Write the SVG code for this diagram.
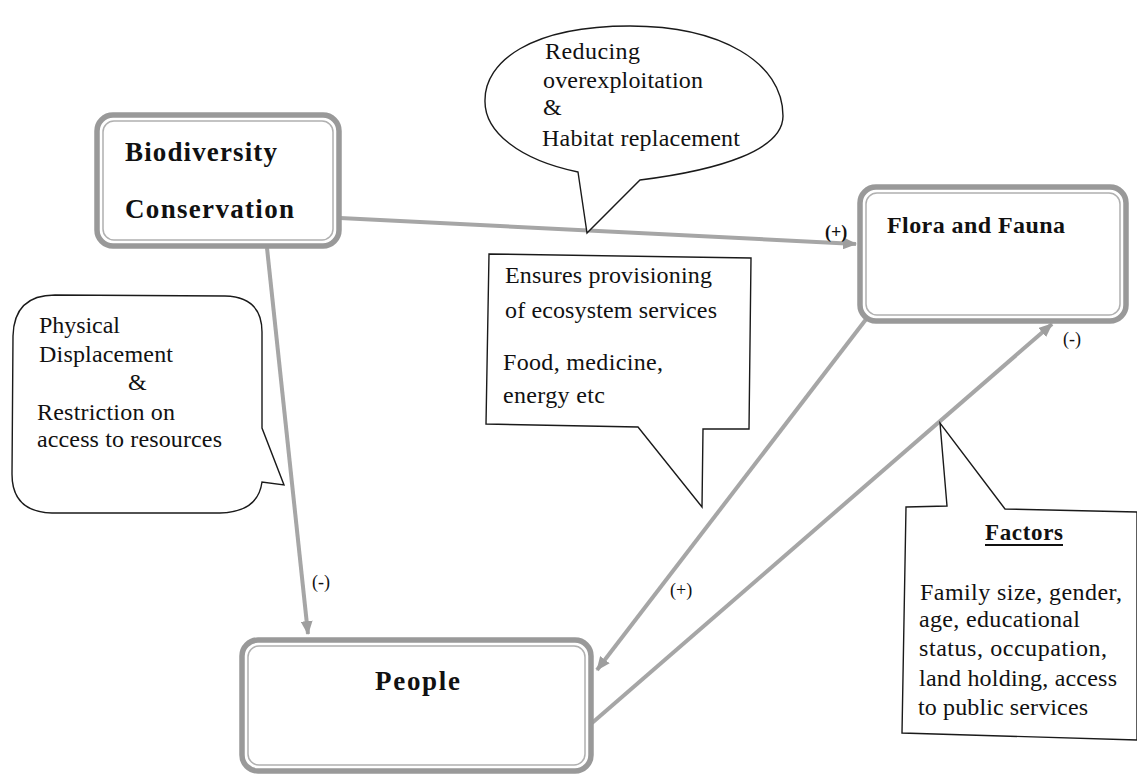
<svg xmlns="http://www.w3.org/2000/svg" width="1137" height="777" viewBox="0 0 1137 777">
<style>
.bg{fill:#ffffff}
.outer{fill:#ffffff;stroke:#999999;stroke-width:5.5}
.inner{fill:none;stroke:#b0b0b0;stroke-width:1.5}
.conn{fill:none;stroke:#a6a6a6;stroke-width:4}
.call{fill:#ffffff;stroke:#1a1a1a;stroke-width:1.4;stroke-linejoin:miter}
.title{font-family:"Liberation Serif","Times New Roman",serif;font-weight:bold;fill:#111}
.body{font-family:"Liberation Serif","Times New Roman",serif;font-size:24px;fill:#111}
.sign{font-family:"Liberation Serif","Times New Roman",serif;font-size:18px;fill:#111}
</style>
<defs>
<marker id="arr" markerUnits="userSpaceOnUse" markerWidth="14" markerHeight="12" refX="13" refY="6" orient="auto">
<path d="M0,0 L14,6 L0,12 Z" fill="#9e9e9e"/>
</marker>
</defs>
<rect class="bg" x="0" y="0" width="1137" height="777"/>

<g id="connectors">
<line class="conn" x1="340" y1="218" x2="856" y2="244" marker-end="url(#arr)"/>
<line class="conn" x1="267" y1="248" x2="308" y2="634" marker-end="url(#arr)"/>
<line class="conn" x1="867" y1="318" x2="597" y2="670" marker-end="url(#arr)"/>
<line class="conn" x1="592" y1="723" x2="1052" y2="324" marker-end="url(#arr)"/>
<text class="sign" x="825" y="238" font-weight="bold">(+)</text>
<text class="sign" x="312" y="588">(-)</text>
<text class="sign" x="670" y="596">(+)</text>
<text class="sign" x="1063" y="345">(-)</text>
</g>

<g id="biodiversity">
<rect class="outer" x="97" y="115" width="242" height="131" rx="16"/>
<rect class="inner" x="103" y="121" width="230" height="119" rx="11"/>
<text class="title" x="125" y="161" font-size="27" textLength="152">Biodiversity</text>
<text class="title" x="125" y="218" font-size="27" textLength="169">Conservation</text>
</g>

<g id="flora">
<rect class="outer" x="860" y="187" width="266" height="134" rx="16"/>
<rect class="inner" x="866" y="193" width="254" height="122" rx="11"/>
<text class="title" x="887" y="233" font-size="24" textLength="178">Flora and Fauna</text>
</g>

<g id="people">
<rect class="outer" x="242" y="640" width="349" height="131" rx="16"/>
<rect class="inner" x="248" y="646" width="337" height="119" rx="11"/>
<text class="title" x="375" y="690" font-size="27" textLength="85">People</text>
</g>

<g id="callout-reducing">
<path class="call" d="M578,172 C520,160 484,132 485,100 C485,62 530,26 630,26 C720,26 783,62 783,116 C783,150 720,170 640,180 L587,233 Z"/>
<text class="body" x="545" y="59" textLength="95">Reducing</text>
<text class="body" x="543" y="88" textLength="160">overexploitation</text>
<text class="body" x="543" y="115">&amp;</text>
<text class="body" x="542" y="146" textLength="198">Habitat replacement</text>
</g>

<g id="callout-ensures">
<path class="call" d="M489,254 L751,258 L749,429 L703,429 L702,507 L638,427 L486,424 Z"/>
<text class="body" x="505" y="283" textLength="207">Ensures provisioning</text>
<text class="body" x="505" y="318" textLength="212">of ecosystem services</text>
<text class="body" x="503" y="370" textLength="160">Food, medicine,</text>
<text class="body" x="503" y="403" textLength="102">energy etc</text>
</g>

<g id="callout-physical">
<path class="call" d="M55,295 L225,296 Q262,297 262,332 L262,428 L284,485 L262,482 Q258,512 220,513 L52,513 Q12,512 12,474 L13,336 Q14,295 55,295 Z"/>
<text class="body" x="39" y="333" textLength="81">Physical</text>
<text class="body" x="39" y="362" textLength="134">Displacement</text>
<text class="body" x="128" y="390">&amp;</text>
<text class="body" x="37" y="420" textLength="138">Restriction on</text>
<text class="body" x="37" y="447" textLength="185">access to resources</text>
</g>

<g id="callout-factors">
<path class="call" d="M906,507 L947,506 L940,423 L1005,509 L1137,512 L1137,740 L902,733 Z"/>
<text class="title" x="985" y="540" font-size="23" textLength="78">Factors</text>
<line x1="985" y1="545" x2="1063" y2="545" stroke="#111" stroke-width="2"/>
<text class="body" x="920" y="600" textLength="202">Family size, gender,</text>
<text class="body" x="919" y="627" textLength="161">age, educational</text>
<text class="body" x="919" y="656" textLength="188">status, occupation,</text>
<text class="body" x="919" y="686" textLength="198">land holding, access</text>
<text class="body" x="918" y="715" textLength="170">to public services</text>
</g>
</svg>
